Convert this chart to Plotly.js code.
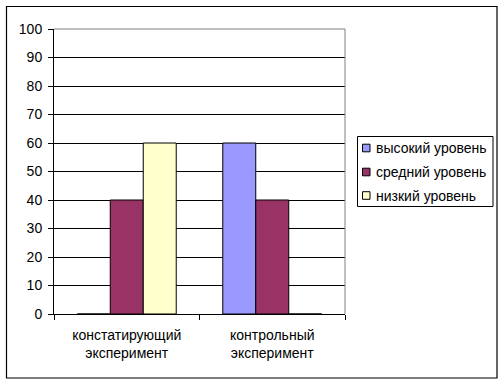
<!DOCTYPE html>
<html><head><meta charset="utf-8">
<script src="https://cdn.plot.ly/plotly-3.0.1.min.js"></script>
<style>html,body{margin:0;padding:0;background:#fff;}#chart{width:504px;height:384px;}</style>
</head><body><div id="chart"></div>
<script>
const categories = ["констатирующий<br>эксперимент", "контрольный<br>эксперимент"];
const seriesNames = ["высокий уровень", "средний уровень", "низкий уровень"];
const high = [0, 60];
const mid = [40, 40];
const low = [60, 0];
const yTicks = [0, 10, 20, 30, 40, 50, 60, 70, 80, 90, 100];

const colors = ["#9999FF", "#993366", "#FFFFCC"];
const values = [high, mid, low];
const traces = values.map((v, i) => ({
  type: "bar", x: categories, y: v, name: seriesNames[i],
  showlegend: false,
  marker: {color: colors[i], line: {color: "#000", width: 1}},
  hoverinfo: "none"
}));

const L = 54, R = 159, T = 29, B = 70, W = 504, H = 384;
const pw = W - L - R, ph = H - T - B;
const px = x => (x - L) / pw;
const py = y => (H - B - y) / ph;

const shapes = [
  {type: "line", xref: "paper", yref: "paper", x0: 0, x1: 1, y0: 1, y1: 1,
    line: {color: "#808080", width: 1}, layer: "above"},
  {type: "line", xref: "paper", yref: "paper", x0: 1, x1: 1, y0: 0, y1: 1,
    line: {color: "#808080", width: 1}, layer: "above"},
  {type: "rect", xref: "paper", yref: "paper", x0: px(6.5), x1: px(497), y0: py(6.5), y1: py(378),
    line: {color: "#000", width: 1.2}, fillcolor: "rgba(0,0,0,0)", layer: "below"},
  {type: "rect", xref: "paper", yref: "paper", x0: px(357.5), x1: px(493), y0: py(136.5), y1: py(206.5),
    line: {color: "#000", width: 1}, fillcolor: "#fff", layer: "above"}
];
const annotations = [];
const rowY = [148, 172, 195.5];
seriesNames.forEach((name, i) => {
  shapes.push({type: "rect", xref: "paper", yref: "paper",
    x0: px(362.5), x1: px(370), y0: py(rowY[i] - 3.8), y1: py(rowY[i] + 3.8),
    line: {color: "#000", width: 1}, fillcolor: colors[i], layer: "above"});
  annotations.push({xref: "paper", yref: "paper", x: px(375), y: py(rowY[i]),
    xanchor: "left", yanchor: "middle", text: name, showarrow: false,
    font: {size: 14}, borderpad: 0});
});

const layout = {
  width: W, height: H,
  margin: {l: L, r: R, t: T, b: B, pad: 0},
  paper_bgcolor: "#fff", plot_bgcolor: "#fff",
  font: {family: "Liberation Sans, Arial, sans-serif", size: 14, color: "#000"},
  barmode: "group", bargap: 0.32, bargroupgap: 0,
  showlegend: false,
  xaxis: {type: "category", tickson: "boundaries", ticks: "outside", ticklen: 5,
    tickcolor: "#000", showline: true, linecolor: "#000", linewidth: 1,
    showgrid: false, zeroline: false, fixedrange: true, ticklabelstandoff: 8},
  yaxis: {range: [0, 100], tickvals: yTicks, ticks: "outside", ticklen: 5,
    tickcolor: "#000", showline: true, linecolor: "#000", linewidth: 1,
    showgrid: true, gridcolor: "#000", gridwidth: 1, zeroline: false,
    fixedrange: true, ticklabelstandoff: 3},
  shapes: shapes,
  annotations: annotations
};
Plotly.newPlot("chart", traces, layout, {displayModeBar: false, staticPlot: true});
</script></body></html>
